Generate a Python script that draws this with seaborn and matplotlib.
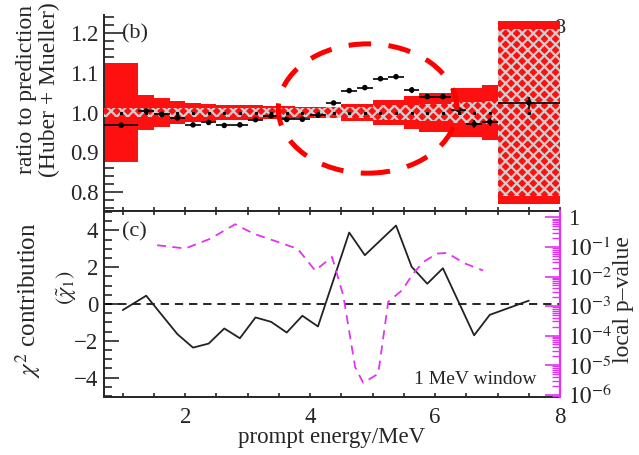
import matplotlib
matplotlib.use("Agg")
import matplotlib.pyplot as plt
import matplotlib.ticker as mticker
from matplotlib.patches import Ellipse
import numpy as np
import pandas as pd
import seaborn as sns

# energy bins of the ratio panel (MeV)
bin_edges = [0.7, 1.25, 1.5, 1.75, 2.0, 2.25, 2.5, 2.75, 3.0, 3.25, 3.5, 3.75, 4.0,
             4.25, 4.5, 4.75, 5.0, 5.25, 5.5, 5.75, 6.0, 6.25, 6.5, 6.75, 7.0, 8.0]
# data / prediction ratio and its error
ratio = [0.968, 1.004, 0.995, 0.9865, 0.969, 0.975, 0.9675, 0.969, 0.982, 0.9915,
         0.9825, 0.983, 0.993, 1.024, 1.055, 1.0625, 1.085, 1.09, 1.0565, 1.04,
         1.04, 1.0075, 0.971, 0.9765, 1.025]
ratio_err = [0.005, 0.004, 0.004, 0.004, 0.004, 0.004, 0.004, 0.004, 0.004, 0.004,
             0.004, 0.004, 0.005, 0.005, 0.005, 0.005, 0.005, 0.005, 0.007, 0.007,
             0.007, 0.007, 0.01, 0.01, 0.015]
# half widths of the prediction uncertainty bands
band_total = [0.124, 0.044, 0.036, 0.028, 0.023, 0.021, 0.02, 0.019, 0.018, 0.017,
              0.016, 0.015, 0.015, 0.015, 0.022, 0.022, 0.031, 0.031, 0.041, 0.05,
              0.05, 0.061, 0.061, 0.07, 0.23]
band_reactor = [0.011, 0.011, 0.011, 0.011, 0.011, 0.011, 0.011, 0.011, 0.011, 0.011,
                0.011, 0.011, 0.011, 0.013, 0.015, 0.015, 0.018, 0.018, 0.02, 0.022,
                0.022, 0.026, 0.026, 0.03, 0.21]

# local chi2 contribution
chi_energy = [1.0, 1.375, 1.875, 2.125, 2.375, 2.625, 2.875, 3.125, 3.375, 3.625,
              3.875, 4.125, 4.625, 4.875, 5.375, 5.625, 5.875, 6.125, 6.625, 6.875, 7.5]
chi_value = [-0.33, 0.45, -1.64, -2.37, -2.15, -1.33, -1.86, -0.73, -0.97, -1.55,
             -0.64, -1.22, 3.88, 2.65, 4.26, 2.02, 1.1, 1.94, -1.7, -0.59, 0.18]

# local p-value, 1 MeV window
pval_energy = [1.55, 2.0, 2.4, 2.8, 3.1, 3.4, 3.8, 4.08, 4.35, 4.53, 4.72, 4.85,
               5.09, 5.25, 5.47, 5.65, 5.81, 6.03, 6.19, 6.48, 6.77]
pval = [0.115, 0.089, 0.19, 0.59, 0.28, 0.17, 0.087, 0.016, 0.046, 0.0023, 8.5e-6,
        2.5e-6, 5.1e-6, 0.0014, 0.0034, 0.0126, 0.031, 0.060, 0.063, 0.0275, 0.016]

pval_ticks = [1, 1e-1, 1e-2, 1e-3, 1e-4, 1e-5, 1e-6]
pval_labels = ["1", r"$10^{-1}$", r"$10^{-2}$", r"$10^{-3}$", r"$10^{-4}$",
               r"$10^{-5}$", r"$10^{-6}$"]

RED = "#ff1010"
HATCH = "#cfcfcf"
MAGENTA = "#e233f2"

sns.set_style("ticks")
plt.rcParams["font.family"] = ["Liberation Serif", "DejaVu Serif"]
plt.rcParams["mathtext.fontset"] = "stix"
plt.rcParams["hatch.linewidth"] = 1.6
plt.rcParams["axes.linewidth"] = 1.4

edges = np.array(bin_edges)
lefts = edges[:-1]
widths = np.diff(edges)
centers = lefts + widths / 2
df = pd.DataFrame({"energy": centers, "ratio": ratio})

fig = plt.figure(figsize=(6.39, 4.55), dpi=100)
ax1 = fig.add_axes([0.1628, 0.5363, 0.7136, 0.4307])
ax2 = fig.add_axes([0.1628, 0.1275, 0.7136, 0.4088])

# ---- top panel: ratio to prediction
tot = np.array(band_total)
rea = np.array(band_reactor)
ax1.text(8.0, 1.212, "8", fontsize=16, ha="center", va="center", zorder=1, clip_on=False)
ax1.bar(lefts, 2 * tot, bottom=1 - tot, width=widths, align="edge",
        color=RED, linewidth=0, zorder=2)
ax1.bar(lefts, 2 * rea, bottom=1 - rea, width=widths, align="edge",
        facecolor=RED, edgecolor=HATCH, hatch="xxx", linewidth=0, zorder=3)
ax1.plot(centers, np.ones_like(centers), "s", ms=1.3, color="k", zorder=4)
ax1.errorbar(centers, ratio, xerr=widths / 2, yerr=ratio_err, fmt="none",
             ecolor="k", elinewidth=1.2, capsize=0, zorder=5)
sns.scatterplot(data=df, x="energy", y="ratio", ax=ax1, color="k", s=16,
                edgecolor="none", zorder=6)
ax1.add_patch(Ellipse((4.92, 1.01), 2.86, 0.325, fill=False, edgecolor="#ff0000",
                      linewidth=3.6, linestyle=(0, (4.5, 3.5)), zorder=7))

ax1.set_xlim(0.7, 8.0)
ax1.set_ylim(0.7525, 1.245)
ax1.spines["top"].set_visible(False)
ax1.spines["right"].set_visible(False)
ax1.yaxis.set_major_locator(mticker.MultipleLocator(0.1))
ax1.yaxis.set_minor_locator(mticker.MultipleLocator(0.02))
ax1.yaxis.set_major_formatter(mticker.FormatStrFormatter("%.1f"))
ax1.xaxis.set_major_locator(mticker.MultipleLocator(0.5))
ax1.tick_params(axis="y", which="major", direction="in", length=14, width=1.2,
                labelsize=16.5, pad=4)
ax1.tick_params(axis="y", which="minor", direction="in", length=7, width=1.2)
ax1.tick_params(axis="x", which="major", direction="in", length=3, width=1.2,
                labelbottom=False)
ax1.set_xlabel("")
ax1.set_ylabel("")
ax1.text(0.99, 1.198, "(b)", fontsize=16, ha="left", va="center", zorder=8)

# ---- bottom panel: chi2 contribution and local p-value
ax2.axhline(0, color="k", linestyle=(0, (5, 3.5)), linewidth=1.2, zorder=1)
sns.lineplot(x=chi_energy, y=chi_value, ax=ax2, color="#222222", linewidth=1.3,
             sort=False, zorder=3)
ax2.set_xlim(0.7, 8.0)
ax2.set_ylim(-5.05, 5.05)
ax2.xaxis.set_major_locator(mticker.MultipleLocator(2))
ax2.xaxis.set_minor_locator(mticker.MultipleLocator(0.5))
ax2.yaxis.set_major_locator(mticker.MultipleLocator(2))
ax2.yaxis.set_minor_locator(mticker.MultipleLocator(0.5))
ax2.yaxis.set_major_formatter(mticker.FuncFormatter(
    lambda v, p: f"{v:.0f}".replace("-", "\u2212")))
ax2.tick_params(axis="x", which="both", direction="in", length=3, width=1.2,
                top=True, labelsize=16.5, pad=7)
ax2.tick_params(axis="y", which="major", direction="in", length=11, width=1.2,
                labelsize=16.5, pad=4)
ax2.tick_params(axis="y", which="minor", direction="in", length=5.5, width=1.2)
ax2.set_xlabel("")
ax2.set_ylabel("")
ax2.text(7.63, -4.1, "1 MeV window", fontsize=14, ha="right", va="center")
ax2.text(0.99, 3.9, "(c)", fontsize=16, ha="left", va="center")

ax3 = ax2.twinx()
ax3.set_yscale("log")
sns.lineplot(x=pval_energy, y=pval, ax=ax3, color=MAGENTA, linewidth=1.3,
             linestyle=(0, (5, 3.5)), sort=False, zorder=2)
ax3.set_ylim(10 ** -6.08, 10 ** 0.22)
ax3.yaxis.set_major_locator(mticker.FixedLocator(pval_ticks))
ax3.yaxis.set_major_formatter(mticker.FixedFormatter(pval_labels))
ax3.yaxis.set_minor_locator(mticker.LogLocator(base=10, subs=np.arange(2, 10), numticks=20))
ax3.yaxis.set_minor_formatter(mticker.NullFormatter())
ax3.tick_params(axis="y", which="major", direction="in", length=11, width=1.2,
                color=MAGENTA, labelsize=16.5, pad=6)
ax3.tick_params(axis="y", which="minor", direction="in", length=5.5, width=1.0,
                color=MAGENTA)
for side in ["left", "top", "bottom"]:
    ax3.spines[side].set_visible(False)
ax3.spines["right"].set_color(MAGENTA)
ax3.spines["right"].set_linewidth(1.6)
ax3.set_ylabel("")

# axis titles
fig.text(27 / 639, 1 - 90 / 455, "ratio to prediction", rotation=90, fontsize=17,
         ha="center", va="center")
fig.text(49 / 639, 1 - 90 / 455, "(Huber + Mueller)", rotation=90, fontsize=17,
         ha="center", va="center")
fig.text(28 / 639, 1 - 300 / 455, r"$\chi^2$ contribution", rotation=90, fontsize=18,
         ha="center", va="center")
fig.text(67 / 639, 1 - 288 / 455, r"$(\tilde{\chi}_1)$", rotation=90, fontsize=16,
         ha="center", va="center")
fig.text(624 / 639, 1 - 300 / 455, "local p\u2013value", rotation=90, fontsize=17,
         ha="center", va="center")
fig.text(332 / 639, 1 - 437 / 455, "prompt energy/MeV", fontsize=16.5,
         ha="center", va="center")

fig.savefig("out.png", dpi=100)
